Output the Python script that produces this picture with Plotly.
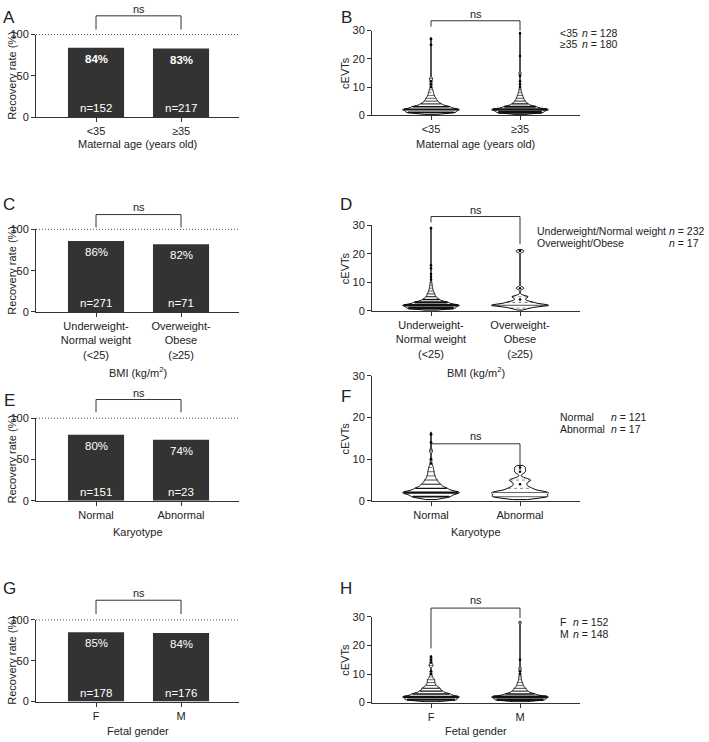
import numpy as np
import plotly.graph_objects as go

W, H = 709, 742

# ---------------- data ----------------
age_cats = ["<35", "≥35"]
age_rate = [84, 83]
age_n = [152, 217]

bmi_cats = ["Underweight-<br>Normal weight<br>(<25)", "Overweight-<br>Obese<br>(≥25)"]
bmi_rate = [86, 82]
bmi_n = [271, 71]

kary_cats = ["Normal", "Abnormal"]
kary_rate = [80, 74]
kary_n = [151, 23]

sex_cats = ["F", "M"]
sex_rate = [85, 84]
sex_n = [178, 176]

# cEVT counts per patient: integer levels and number of patients at each level
age_lt35_vals = [1, 2, 3, 4, 5, 6, 7, 8, 9, 10, 11, 12, 13, 25, 27]
age_lt35_cnt = [30, 34, 22, 12, 8, 6, 4, 3, 2, 1, 1, 1, 2, 1, 1]
age_ge35_vals = [1, 2, 3, 4, 5, 6, 7, 8, 9, 10, 11, 12, 14, 15, 21, 29]
age_ge35_cnt = [45, 55, 30, 15, 10, 7, 5, 3, 2, 1, 1, 1, 1, 2, 1, 1]

bmi_low_vals = [1, 2, 3, 4, 5, 6, 7, 8, 9, 10, 11, 12, 13, 15, 16, 29]
bmi_low_cnt = [60, 70, 40, 20, 12, 9, 6, 4, 3, 2, 1, 1, 1, 1, 1, 1]
bmi_high_vals = [1, 2, 3, 4, 5, 8, 21]
bmi_high_cnt = [2, 7, 3, 1, 2, 1, 1]

kary_norm_vals = [1, 2, 3, 4, 5, 6, 7, 8, 9, 10, 12, 14, 16]
kary_norm_cnt = [25, 38, 20, 12, 8, 5, 4, 3, 1, 1, 2, 1, 1]
kary_abn_vals = [1, 2, 3, 4, 5, 7, 8]
kary_abn_cnt = [5, 5, 2, 1, 2, 1, 1]

sex_f_vals = [1, 2, 3, 4, 5, 6, 7, 8, 9, 10, 11, 13, 14, 15, 16]
sex_f_cnt = [35, 38, 25, 15, 12, 7, 5, 5, 2, 1, 1, 3, 1, 1, 1]
sex_m_vals = [1, 2, 3, 4, 5, 6, 7, 8, 9, 10, 11, 12, 15, 28]
sex_m_cnt = [40, 45, 22, 12, 9, 5, 4, 2, 2, 1, 1, 2, 1, 2]

legend_age = [("<35", 128), ("≥35", 180)]
legend_bmi = [("Underweight/Normal weight", 232), ("Overweight/Obese", 17)]
legend_kary = [("Normal", 121), ("Abnormal", 17)]
legend_sex = [("F", 152), ("M", 148)]

# ---------------- layout helpers ----------------
FONT = "Arial, Liberation Sans, sans-serif"
INK = "#222222"
BAR_X = (36, 239)
VIO_X = (372, 580)
BAR_RANGE = [-0.706, 1.682]
VIO_RANGE = [-0.663, 1.674]
BW = 0.45
VIO_WIDTH = 0.64


def fx(px):
    return px / W


def fy(py):
    return 1 - py / H


def cat_px(k, xdom, xr):
    return xdom[0] + (k - xr[0]) / (xr[1] - xr[0]) * (xdom[1] - xdom[0])


fig = go.Figure()
shapes = []
annos = []


def text(x, y, s, size=11, xanchor="center", yanchor="middle", angle=0, color=INK):
    annos.append(dict(x=fx(x), y=fy(y), xref="paper", yref="paper", text=s, showarrow=False,
                      xanchor=xanchor, yanchor=yanchor, textangle=angle,
                      font=dict(family=FONT, size=size, color=color)))


def bracket(xdom, xr, ybar, leg0, leg1, ns_y):
    x0 = cat_px(0, xdom, xr)
    x1 = cat_px(1, xdom, xr)
    shapes.append(dict(type="path", xref="paper", yref="paper",
                       path=f"M {fx(x0)} {fy(leg0)} L {fx(x0)} {fy(ybar)} L {fx(x1)} {fy(ybar)} L {fx(x1)} {fy(leg1)}",
                       line=dict(color="#333333", width=1)))
    text((x0 + x1) / 2, ns_y, "ns")


def axis_common():
    return dict(showline=True, linecolor="#333333", linewidth=1, ticks="outside", ticklen=4,
                tickcolor="#333333", tickwidth=1, showgrid=False, zeroline=False, fixedrange=True,
                tickfont=dict(family=FONT, size=11, color=INK))


layout_axes = {}

bar_panels = [
    dict(i=1, cats=age_cats, rate=age_rate, n=age_n, y0=113, y1=29, bold=True, letter="A", ly=12,
         title="Maternal age (years old)", ty=140, br=10, leg=24, ns=3),
    dict(i=3, cats=bmi_cats, rate=bmi_rate, n=bmi_n, y0=311, y1=227, bold=False, letter="C", ly=202,
         title="BMI (kg/m<sup>2</sup>)", ty=372, br=212, leg=225, ns=204),
    dict(i=5, cats=kary_cats, rate=kary_rate, n=kary_n, y0=503, y1=419, bold=False, letter="E", ly=401,
         title="Karyotype", ty=535, br=400, leg=413, ns=393),
    dict(i=7, cats=sex_cats, rate=sex_rate, n=sex_n, y0=707, y1=624, bold=False, letter="G", ly=592,
         title="Fetal gender", ty=737, br=604, leg=618, ns=597),
]

for p in bar_panels:
    i = p["i"]
    xa, ya = f"x{i}", f"y{i}"
    fig.add_trace(go.Bar(x=[0, 1], y=p["rate"], width=0.66, marker=dict(color="#333333", line_width=0),
                         xaxis=xa, yaxis=ya, hoverinfo="skip"))
    ax = axis_common()
    ax.update(domain=[fx(BAR_X[0]), fx(BAR_X[1])], range=BAR_RANGE, tickvals=[0, 1], ticktext=p["cats"],
              anchor=ya)
    ay = axis_common()
    ay.update(domain=[fy(p["y0"]), fy(p["y1"])], range=[0, 100], tickvals=[0, 50, 100], anchor=xa)
    layout_axes[f"xaxis{i}"] = ax
    layout_axes[f"yaxis{i}"] = ay
    for k in range(2):
        pct = f"{p['rate'][k]}%"
        if p["bold"]:
            pct = f"<b>{pct}</b>"
        annos.append(dict(x=k, y=p["rate"][k], xref=xa, yref=ya, text=pct, showarrow=False,
                          yanchor="top", yshift=-3, font=dict(family=FONT, size=11.5, color="white")))
        annos.append(dict(x=k, y=0, xref=xa, yref=ya, text=f"n={p['n'][k]}", showarrow=False,
                          yanchor="bottom", yshift=1, font=dict(family=FONT, size=11.5, color="white")))
    # dotted 100% line
    shapes.append(dict(type="line", xref="paper", yref="paper", x0=fx(BAR_X[0]), x1=fx(BAR_X[1]),
                       y0=fy(p["y1"]), y1=fy(p["y1"]), line=dict(color="#555555", width=1, dash="1px,2px")))
    bracket(BAR_X, BAR_RANGE, p["br"], p["leg"], p["leg"], p["ns"])
    text(9, p["ly"], p["letter"], size=17)
    text((BAR_X[0] + BAR_X[1]) / 2, p["ty"], p["title"])
    text(12, (p["y0"] + p["y1"]) / 2, "Recovery rate (%)", angle=-90)


def kde(grid, vals):
    vals = np.asarray(vals, dtype=float)
    z = (np.asarray(grid, dtype=float)[:, None] - vals[None, :]) / BW
    return np.exp(-0.5 * z ** 2).sum(axis=1) / (len(vals) * BW * np.sqrt(2 * np.pi))


vio_panels = [
    dict(i=2, groups=[(age_lt35_vals, age_lt35_cnt), (age_ge35_vals, age_ge35_cnt)], cats=age_cats,
         y0=111, y1=25, letter="B", ly=12, title="Maternal age (years old)", ty=140,
         br=15, legs=(21, 25), ns=8, leg=legend_age, lrows=(27, 39), lx=558, nx=(580, 580)),
    dict(i=4, groups=[(bmi_low_vals, bmi_low_cnt), (bmi_high_vals, bmi_high_cnt)], cats=bmi_cats,
         y0=310, y1=223, letter="D", ly=202, title="BMI (kg/m<sup>2</sup>)", ty=372,
         br=214, legs=(220, 242), ns=207, leg=legend_bmi, lrows=(229, 241), lx=535, nx=(667, 667)),
    dict(i=6, groups=[(kary_norm_vals, kary_norm_cnt), (kary_abn_vals, kary_abn_cnt)], cats=kary_cats,
         y0=503, y1=376, letter="F", ly=397, title="Karyotype", ty=535,
         br=445, legs=(452, 472), ns=437, leg=legend_kary, lrows=(418, 430), lx=558, nx=(609, 609)),
    dict(i=8, groups=[(sex_f_vals, sex_f_cnt), (sex_m_vals, sex_m_cnt)], cats=sex_cats,
         y0=708, y1=621, letter="H", ly=592, title="Fetal gender", ty=737,
         br=612, legs=(653, 622), ns=604, leg=legend_sex, lrows=(626, 638), lx=558, nx=(571, 571)),
]

for p in vio_panels:
    i = p["i"]
    xa, ya = f"x{i}", f"y{i}"
    for k, (vals, cnts) in enumerate(p["groups"]):
        data = np.repeat(vals, cnts)
        lo, hi = data.min() - 0.7, data.max() + 0.5
        fig.add_trace(go.Violin(x0=k, y=data, width=VIO_WIDTH, bandwidth=BW, spanmode="manual",
                                span=[lo, hi],
                                scalemode="width", fillcolor="white", line=dict(color="black", width=1),
                                points=False, box_visible=False, meanline_visible=False,
                                xaxis=xa, yaxis=ya, hoverinfo="skip"))
        # one horizontal stripe per cEVT level, thicker where more patients share the level
        nstep = int(np.ceil((hi - lo) / (BW / 3)))
        grid = np.linspace(lo, hi, nstep + 1)
        kmax = kde(grid, data).max()
        widths = kde(vals, data) / kmax * (VIO_WIDTH / 2) * 0.95
        single_x, single_y = [], []
        for v, c, w in zip(vals, cnts, widths):
            if c == 1:
                single_x.append(k)
                single_y.append(v)
                continue
            lw = min(0.4 + c * 0.05, 2.6)
            fig.add_trace(go.Scatter(x=[k - w, k + w], y=[v, v], mode="lines", xaxis=xa, yaxis=ya,
                                     hoverinfo="skip",
                                     line=dict(color="#111111", width=lw, dash="dot" if c <= 3 else "solid")))
        if single_x:
            fig.add_trace(go.Scatter(x=single_x, y=single_y, mode="markers", xaxis=xa, yaxis=ya,
                                     hoverinfo="skip", marker=dict(size=2.5, color="black", line_width=0)))
    ax = axis_common()
    ax.update(domain=[fx(VIO_X[0]), fx(VIO_X[1])], range=VIO_RANGE, tickvals=[0, 1], ticktext=p["cats"],
              anchor=ya)
    ay = axis_common()
    ay.update(domain=[fy(p["y0"]), fy(p["y1"])], range=[0, 30], tickvals=[0, 10, 20, 30], anchor=xa)
    layout_axes[f"xaxis{i}"] = ax
    layout_axes[f"yaxis{i}"] = ay
    bracket(VIO_X, VIO_RANGE, p["br"], p["legs"][0], p["legs"][1], p["ns"])
    text(346, p["ly"], p["letter"], size=17)
    text((VIO_X[0] + VIO_X[1]) / 2, p["ty"], p["title"])
    text(345, (p["y0"] + p["y1"]) / 2, "cEVTs", angle=-90)
    for (lab, nn), yy, nx in zip(p["leg"], p["lrows"], p["nx"]):
        text(p["lx"], yy, lab, size=10.5, xanchor="left")
        text(nx, yy, f"<i>n</i> = {nn}", size=10.5, xanchor="left")

fig.update_layout(
    width=W, height=H, margin=dict(l=0, r=0, t=0, b=0),
    paper_bgcolor="white", plot_bgcolor="white", showlegend=False,
    violinmode="overlay", barmode="overlay",
    font=dict(family=FONT, size=11, color=INK),
    shapes=shapes, annotations=annos, **layout_axes,
)

fig.write_html("out.html", config={"displayModeBar": False},
               post_script="document.body.style.margin='0';document.body.style.overflow='hidden';")
